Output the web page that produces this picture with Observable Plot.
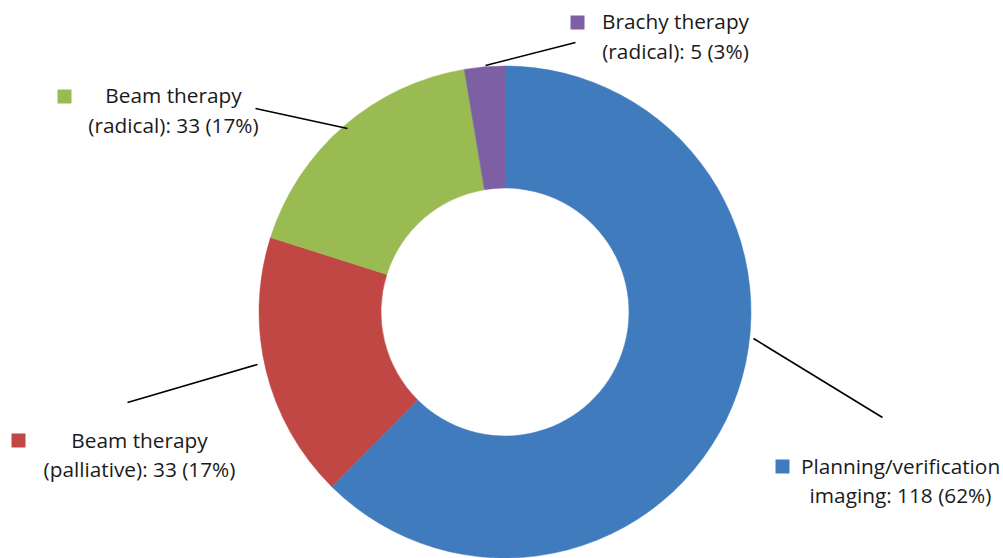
<!DOCTYPE html>
<html>
<head>
<meta charset="utf-8">
<script src="https://cdn.jsdelivr.net/npm/d3@7"></script>
<script src="https://cdn.jsdelivr.net/npm/@observablehq/plot@0.6"></script>
<style>
  html, body { margin: 0; padding: 0; background: #fff; }
  #chart svg { display: block; }
</style>
</head>
<body>
<div id="chart"></div>
<script>
// ---- data ----
const categories = ["Planning/verification imaging", "Beam therapy (palliative)", "Beam therapy (radical)", "Brachy therapy (radical)"];
const values = [118, 33, 33, 5];
const labelLine1 = ["Planning/verification", "Beam therapy", "Beam therapy", "Brachy therapy"];
const labelPrefix = ["imaging", "(palliative)", "(radical)", "(radical)"];
const colors = ["#407cbd", "#c04744", "#9aba52", "#7d5fa3"];

// ---- layout (positions only, pixels) ----
const W = 1003, H = 558;
const center = {x: 505, y: 312};
const outerR = 246, innerR = 124;
const labelCenterX = [900, 139, 173, 675];
const line1Base = [473, 447, 102, 28];
const line2Base = [502, 476, 132, 58];
const squareX = [782, 18, 64, 577];
const squareY = [466, 440, 96, 22];
const leaderX1 = [753, 257, 347, 485];
const leaderY1 = [338, 364, 128, 65];
const leaderX2 = [882, 127, 255, 575];
const leaderY2 = [417, 402, 108, 42];

const total = d3.sum(values);
const rows = categories.map((c, i) => ({
  category: c,
  value: values[i],
  color: colors[i],
  line1: labelLine1[i],
  line2: `${labelPrefix[i]}: ${values[i]} (${Math.round(values[i] / total * 100)}%)`,
  lx: labelCenterX[i], l1y: line1Base[i], l2y: line2Base[i],
  sx: squareX[i], sy: squareY[i],
  x1: leaderX1[i], y1: leaderY1[i], x2: leaderX2[i], y2: leaderY2[i]
}));

const pie = d3.pie().sort(null).value(d => d.value)(rows);
const arc = d3.arc().innerRadius(innerR).outerRadius(outerR);

function donut(index, scales) {
  const g = d3.create("svg:g")
    .attr("transform", `translate(${scales.x(center.x)},${scales.y(center.y)})`);
  g.selectAll("path").data(pie).join("path")
    .attr("d", arc)
    .attr("fill", d => d.data.color)
    .attr("stroke", d => d.data.color)
    .attr("stroke-width", 0.5);
  return g.node();
}

const font = "'Open Sans', sans-serif";
const chart = Plot.plot({
  width: W,
  height: H,
  margin: 0,
  x: {domain: [0, W], range: [0, W], axis: null},
  y: {domain: [0, H], range: [0, H], axis: null},
  style: {fontFamily: font, background: "#fff"},
  marks: [
    donut,
    Plot.link(rows, {x1: "x1", y1: "y1", x2: "x2", y2: "y2", stroke: "#000", strokeWidth: 1.6}),
    Plot.dot(rows, {x: "sx", y: "sy", symbol: "square", r: 7.9, fill: d => d.color, stroke: null}),
    Plot.text(rows, {x: "lx", y: "l1y", text: "line1", textAnchor: "middle", lineAnchor: "bottom", fontSize: 20.8, fill: "#1a1a1a"}),
    Plot.text(rows, {x: "lx", y: "l2y", text: "line2", textAnchor: "middle", lineAnchor: "bottom", fontSize: 20.8, fill: "#1a1a1a"})
  ]
});
document.getElementById("chart").append(chart);
</script>
</body>
</html>
